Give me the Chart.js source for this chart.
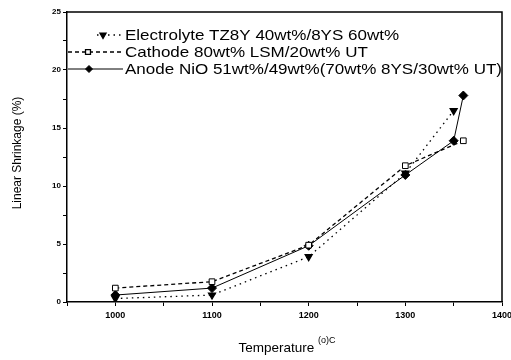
<!DOCTYPE html>
<html>
<head>
<meta charset="utf-8">
<script src="https://cdn.jsdelivr.net/npm/chart.js@4/dist/chart.umd.min.js"></script>
<style>
  html, body { margin: 0; padding: 0; background: #fff; }
  #wrap { width: 511px; height: 360px; position: relative; }
</style>
</head>
<body>
<div id="wrap"><canvas id="shrinkChart"></canvas></div>
<script>
// values
const electrolyteTemp = [1000, 1100, 1200, 1300, 1350];
const electrolyteShrink = [0.3, 0.6, 3.9, 11.1, 16.5];

const cathodeTemp = [1000, 1100, 1200, 1300, 1360];
const cathodeShrink = [1.2, 1.75, 4.9, 11.75, 13.9];

const anodeTemp = [1000, 1100, 1200, 1300, 1350, 1360];
const anodeShrink = [0.6, 1.2, 4.85, 10.95, 13.9, 17.8];

const seriesLabels = [
    'Electrolyte TZ8Y 40wt%/8YS 60wt%',
    'Cathode 80wt% LSM/20wt% UT',
    'Anode NiO 51wt%/49wt%(70wt% 8YS/30wt% UT)'
];

const xLabels = [1000, 1100, 1200, 1300, 1400];
const yLabels = [0, 5, 10, 15, 20, 25];

function toPoints(xs, ys) {
    return xs.map((x, i) => ({ x: x, y: ys[i] }));
}

// box round the plot area (top and right edges)
const frame = {
    id: 'frame',
    afterDraw(chart) {
        const { ctx, chartArea: a } = chart;
        ctx.save();
        ctx.strokeStyle = '#000';
        ctx.lineWidth = 1.5;
        ctx.beginPath();
        ctx.moveTo(a.left, a.top);
        ctx.lineTo(a.right, a.top);
        ctx.lineTo(a.right, a.bottom);
        ctx.stroke();
        ctx.restore();
    }
};

// legend in the old style: line sample with marker, then text
const sketchLegend = {
    id: 'sketchLegend',
    afterDraw(chart) {
        const { ctx, chartArea: a } = chart;
        const rows = [
            { y: a.top + 23, x0: a.left + 30, x1: a.left + 54, mark: a.left + 36 },
            { y: a.top + 40, x0: a.left + 1, x1: a.left + 56, mark: a.left + 21 },
            { y: a.top + 57, x0: a.left + 1, x1: a.left + 56, mark: a.left + 22 }
        ];
        const font = '15px "Liberation Sans", Arial, sans-serif';
        ctx.save();
        ctx.font = font;
        // stretch text so the longest line ends at the right edge, as in the scan
        const longest = ctx.measureText(seriesLabels[2]).width;
        const sx = (a.right - (a.left + 58)) / longest;
        chart.data.datasets.forEach((ds, i) => {
            const r = rows[i];
            ctx.strokeStyle = '#000';
            ctx.lineWidth = ds.borderWidth;
            ctx.setLineDash(ds.borderDash || []);
            ctx.beginPath();
            ctx.moveTo(r.x0, r.y);
            ctx.lineTo(r.x1, r.y);
            ctx.stroke();
            ctx.setLineDash([]);
            ctx.fillStyle = ds.pointBackgroundColor;
            ctx.strokeStyle = '#000';
            Chart.helpers.drawPoint(ctx, {
                pointStyle: ds.pointStyle,
                rotation: ds.pointRotation || 0,
                radius: 3.5,
                borderWidth: 1
            }, r.mark, r.y);
            ctx.save();
            ctx.fillStyle = '#000';
            ctx.font = font;
            ctx.textBaseline = 'middle';
            ctx.translate(a.left + 58, r.y + 1);
            ctx.scale(sx, 1);
            ctx.fillText(ds.label, 0, 0);
            ctx.restore();
        });
        ctx.restore();
    }
};

// axis titles drawn by hand (x title has a superscript unit)
const axisTitles = {
    id: 'axisTitles',
    afterDraw(chart) {
        const { ctx } = chart;
        ctx.save();
        ctx.fillStyle = '#000';
        ctx.textBaseline = 'alphabetic';
        const big = '13.5px "Liberation Sans", Arial, sans-serif';
        const small = '9px "Liberation Sans", Arial, sans-serif';
        const main = 'Temperature ';
        const sup = '(o)C';
        ctx.font = big;
        const w1 = ctx.measureText(main).width;
        ctx.font = small;
        const w2 = ctx.measureText(sup).width;
        const x = 287 - (w1 + w2) / 2;
        ctx.font = big;
        ctx.fillText(main, x, 352);
        ctx.font = small;
        ctx.fillText(sup, x + w1, 343);

        ctx.translate(21, 153);
        ctx.rotate(-Math.PI / 2);
        ctx.textAlign = 'center';
        ctx.font = '12px "Liberation Sans", Arial, sans-serif';
        ctx.fillText('Linear Shrinkage (%)', 0, 0);
        ctx.restore();
    }
};

const ctx = document.getElementById('shrinkChart').getContext('2d');

new Chart(ctx, {
    type: 'line',
    data: {
        datasets: [{
            label: seriesLabels[0],
            data: toPoints(electrolyteTemp, electrolyteShrink),
            borderColor: '#000',
            borderWidth: 1.3,
            borderDash: [1.5, 4],
            pointStyle: 'triangle',
            pointRotation: 180,
            pointRadius: 4,
            pointBackgroundColor: '#000',
            pointBorderColor: '#000',
            fill: false
        }, {
            label: seriesLabels[1],
            data: toPoints(cathodeTemp, cathodeShrink),
            borderColor: '#000',
            borderWidth: 1.3,
            borderDash: [4, 3],
            pointStyle: 'rect',
            pointRadius: 4,
            pointBackgroundColor: '#fff',
            pointBorderColor: '#000',
            pointBorderWidth: 1,
            fill: false
        }, {
            label: seriesLabels[2],
            data: toPoints(anodeTemp, anodeShrink),
            borderColor: '#000',
            borderWidth: 1,
            pointStyle: 'rectRot',
            pointRadius: 4.5,
            pointBackgroundColor: '#000',
            pointBorderColor: '#000',
            fill: false
        }]
    },
    options: {
        responsive: true,
        maintainAspectRatio: false,
        animation: false,
        layout: { padding: { top: 12, right: 9, left: 0, bottom: 0 } },
        plugins: {
            legend: { display: false },
            tooltip: { enabled: false }
        },
        scales: {
            x: {
                type: 'linear',
                min: 950,
                max: 1400,
                afterFit(scale) {
                    scale.height = 58;
                    // let the 1400 label run off the edge like in the scan
                    scale.paddingRight = 0;
                    scale.paddingLeft = 0;
                },
                afterBuildTicks(scale) {
                    const t = [];
                    for (let v = 950; v <= 1400; v += 50) t.push({ value: v });
                    scale.ticks = t;
                },
                ticks: {
                    autoSkip: false,
                    maxRotation: 0,
                    padding: 4,
                    color: '#000',
                    font: { family: 'Arial, sans-serif', size: 9, weight: 'bold' },
                    callback: v => xLabels.includes(v) ? String(v) : ''
                },
                grid: {
                    drawOnChartArea: false,
                    drawTicks: true,
                    tickLength: 4,
                    color: '#000'
                },
                border: { color: '#000', width: 1.5 }
            },
            y: {
                min: 0,
                max: 25,
                afterFit(scale) { scale.width = 67; },
                afterBuildTicks(scale) {
                    const t = [];
                    for (let v = 0; v <= 25; v += 2.5) t.push({ value: v });
                    scale.ticks = t;
                },
                ticks: {
                    autoSkip: false,
                    padding: 2,
                    color: '#000',
                    font: { family: 'Arial, sans-serif', size: 8, weight: 'bold' },
                    callback: v => yLabels.includes(v) ? String(v) : ''
                },
                grid: {
                    drawOnChartArea: false,
                    drawTicks: true,
                    tickLength: 4,
                    color: '#000'
                },
                border: { color: '#000', width: 1.5 }
            }
        }
    },
    plugins: [frame, sketchLegend, axisTitles]
});
</script>
</body>
</html>
